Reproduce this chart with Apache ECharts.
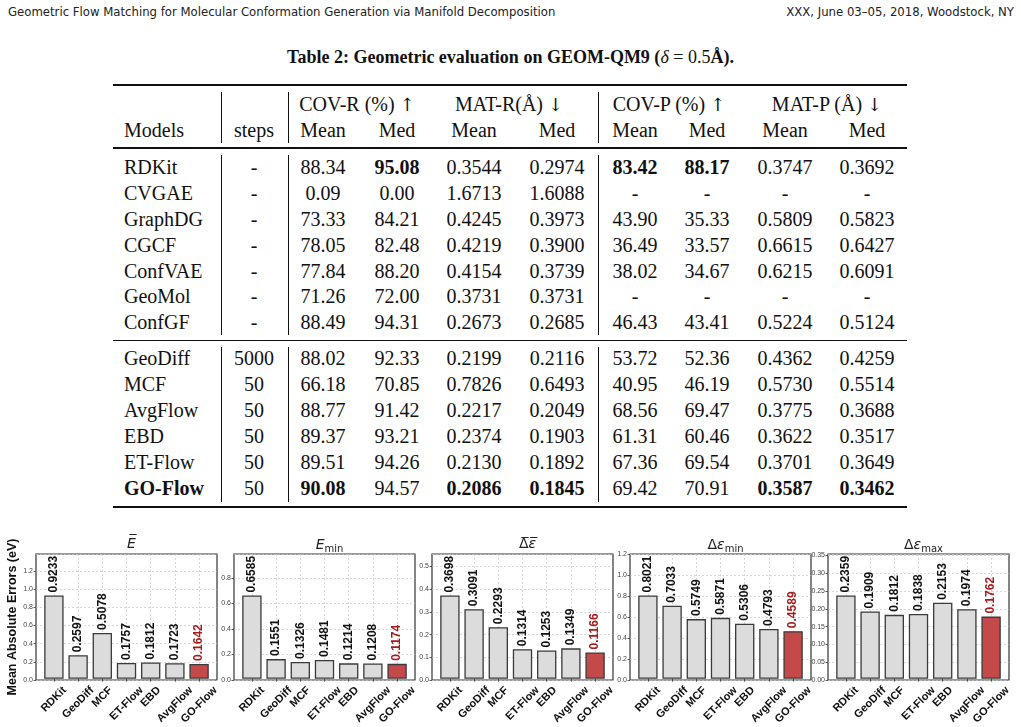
<!DOCTYPE html>
<html>
<head>
<meta charset="utf-8">
<script src="https://cdn.jsdelivr.net/npm/echarts@6/dist/echarts.min.js"></script>
<style>
  body { margin: 0; background: #fff; width: 1021px; height: 727px; overflow: hidden; position: relative; }
  .hd { position: absolute; top: 4px; font-family: "DejaVu Sans Condensed", "Liberation Sans Narrow", sans-serif; font-size: 13px; color: #222; white-space: nowrap; }
  #cap { position: absolute; top: 47px; left: 0; width: 1021px; text-align: center; font: bold 18px "Liberation Serif", serif; color: #111; }
  .t { position: absolute; font-family: "Liberation Serif", serif; font-size: 20px; color: #111; white-space: nowrap; transform: translate(-50%, -50%); }
  .t.l { transform: translate(0, -50%); }
  .t.b { font-weight: bold; }
  .ar { font-family: "DejaVu Serif", serif; color: #111; font-size: 18px; }
  .rule { position: absolute; left: 113px; width: 794px; background: #111; }
  .vl { position: absolute; width: 1px; background: #111; }
  #chart { position: absolute; left: 0; top: 525px; width: 1021px; height: 202px; }
</style>
</head>
<body>
<div class="hd" style="left:8px">Geometric Flow Matching for Molecular Conformation Generation via Manifold Decomposition</div>
<div class="hd" style="right:7px">XXX, June 03–05, 2018, Woodstock, NY</div>
<div id="cap">Table 2: Geometric evaluation on GEOM-QM9 (<i style="font-weight:normal">δ</i> <span style="font-weight:normal">= 0.5</span>Å).</div>
<div id="table"></div>
<div id="chart"></div>
<script>
// ---- table data ----
const tableModels = ['RDKit', 'CVGAE', 'GraphDG', 'CGCF', 'ConfVAE', 'GeoMol', 'ConfGF',
                     'GeoDiff', 'MCF', 'AvgFlow', 'EBD', 'ET-Flow', 'GO-Flow'];
const tableSteps = ['-', '-', '-', '-', '-', '-', '-', '5000', '50', '50', '50', '50', '50'];
const covRMean = ['88.34', '0.09', '73.33', '78.05', '77.84', '71.26', '88.49', '88.02', '66.18', '88.77', '89.37', '89.51', '90.08'];
const covRMed  = ['95.08', '0.00', '84.21', '82.48', '88.20', '72.00', '94.31', '92.33', '70.85', '91.42', '93.21', '94.26', '94.57'];
const matRMean = ['0.3544', '1.6713', '0.4245', '0.4219', '0.4154', '0.3731', '0.2673', '0.2199', '0.7826', '0.2217', '0.2374', '0.2130', '0.2086'];
const matRMed  = ['0.2974', '1.6088', '0.3973', '0.3900', '0.3739', '0.3731', '0.2685', '0.2116', '0.6493', '0.2049', '0.1903', '0.1892', '0.1845'];
const covPMean = ['83.42', '-', '43.90', '36.49', '38.02', '-', '46.43', '53.72', '40.95', '68.56', '61.31', '67.36', '69.42'];
const covPMed  = ['88.17', '-', '35.33', '33.57', '34.67', '-', '43.41', '52.36', '46.19', '69.47', '60.46', '69.54', '70.91'];
const matPMean = ['0.3747', '-', '0.5809', '0.6615', '0.6215', '-', '0.5224', '0.4362', '0.5730', '0.3775', '0.3622', '0.3701', '0.3587'];
const matPMed  = ['0.3692', '-', '0.5823', '0.6427', '0.6091', '-', '0.5124', '0.4259', '0.5514', '0.3688', '0.3517', '0.3649', '0.3462'];
// bold cells: row index -> column indices (0 = model, 2..9 = value columns)
const boldCells = { 0: [3, 6, 7], 12: [0, 2, 4, 5, 8, 9] };

// ---- bar chart data ----
const models = ['RDKit', 'GeoDiff', 'MCF', 'ET-Flow', 'EBD', 'AvgFlow', 'GO-Flow'];
const eMean   = [0.9233, 0.2597, 0.5078, 0.1757, 0.1812, 0.1723, 0.1642];
const eMin    = [0.6585, 0.1551, 0.1326, 0.1481, 0.1214, 0.1208, 0.1174];
const gapMean = [0.3698, 0.3091, 0.2293, 0.1314, 0.1253, 0.1349, 0.1166];
const gapMin  = [0.8021, 0.7033, 0.5749, 0.5871, 0.5306, 0.4793, 0.4589];
const gapMax  = [0.2359, 0.1909, 0.1812, 0.1838, 0.2153, 0.1974, 0.1762];
const yIntervals = [0.2, 0.2, 0.1, 0.2, 0.05];
const yDecimals = [1, 1, 1, 1, 2];

// ---- build table ----
(function buildTable() {
    const host = document.getElementById('table');
    let html = '';
    const cell = (txt, x, y, cls) =>
        `<div class="t ${cls || ''}" style="left:${x}px;top:${y}px">${txt}</div>`;
    const up = '<span class="ar">\u2191</span>', down = '<span class="ar">\u2193</span>';

    // rules
    html += '<div class="rule" style="top:84px;height:2px"></div>';
    html += '<div class="rule" style="top:147px;height:1.5px"></div>';
    html += '<div class="rule" style="top:340px;height:1px"></div>';
    html += '<div class="rule" style="top:506px;height:2px"></div>';
    // vertical separators, broken at the rules
    [221, 288, 598].forEach(x => {
        [[92, 143], [155, 335], [347, 502]].forEach(([a, b]) => {
            html += `<div class="vl" style="left:${x}px;top:${a}px;height:${b - a}px"></div>`;
        });
    });

    // headers
    html += cell('COV-R (%) ' + up, 357, 104);
    html += cell('MAT-R(Å) ' + down, 509, 104);
    html += cell('COV-P (%) ' + up, 669, 104);
    html += cell('MAT-P (Å) ' + down, 827, 104);
    html += cell('Models', 124, 130, 'l');
    html += cell('steps', 254, 130);
    const colX = [323, 397, 474, 557, 635, 707, 785, 867];
    colX.forEach((x, i) => { html += cell(i % 2 ? 'Med' : 'Mean', x, 130); });

    const rowY = [167, 193, 219, 245, 271, 296, 322, 358, 384, 410, 436, 462, 488];
    const cols = [covRMean, covRMed, matRMean, matRMed, covPMean, covPMed, matPMean, matPMed];
    tableModels.forEach((m, r) => {
        const bold = boldCells[r] || [];
        html += cell(m, 124, rowY[r], 'l' + (bold.includes(0) ? ' b' : ''));
        html += cell(tableSteps[r], 254, rowY[r]);
        cols.forEach((arr, c) => {
            html += cell(arr[r], colX[c], rowY[r], bold.includes(c + 2) ? 'b' : '');
        });
    });
    host.innerHTML = html;
})();

// ---- bar charts ----
const chart = echarts.init(document.getElementById('chart'));

const panels = [
    { vals: eMean,   title: '{it|E\u0305}' },
    { vals: eMin,    title: '{it|E}{sub|min}' },
    { vals: gapMean, title: '{n|Δ\u0305}{it|ε\u0305}' },
    { vals: gapMin,  title: '{n|Δ}{it|ε}{sub|min}' },
    { vals: gapMax,  title: '{n|Δ}{it|ε}{sub|max}' }
];

const PANEL_W = 181, PANEL_STEP = 198, PANEL_L = 36, TOP = 29, BOTTOM = 47;
// matplotlib-like x range: [-0.74, 6.74] for 7 bars of width 0.8
const unit = PANEL_W / 7.48;
const HIGHLIGHT = 'GO-Flow';

// x tick labels: rotated 45deg, centred under the tick, top edge a fixed gap below the axis
const XL_FONT = 11, XL_GAP = 6;
const measure = document.createElement('canvas').getContext('2d');
measure.font = `bold ${XL_FONT}px "Liberation Sans"`;
const labelLen = models.map(m => measure.measureText(m).width);
const diag = l => 0.3536 * (l + XL_FONT);
const xlMargin = XL_GAP + diag(Math.min(...labelLen));
const xlRich = {};
models.forEach((m, k) => {
    const shift = 1.414 * (XL_GAP + diag(labelLen[k]) - xlMargin);
    xlRich['l' + k] = { fontFamily: 'Liberation Sans', fontWeight: 'bold', fontSize: XL_FONT,
                        color: '#111', padding: [shift, shift, 0, 0] };
});

const grid = [], xAxis = [], yAxis = [], series = [], title = [];
const titleRich = {
    it: { fontFamily: 'DejaVu Sans', fontStyle: 'italic', fontWeight: 'normal', fontSize: 14, color: '#222' },
    n: { fontFamily: 'DejaVu Sans', fontWeight: 'normal', fontSize: 14, color: '#222' },
    sub: { fontFamily: 'DejaVu Sans', fontWeight: 'normal', fontSize: 10, color: '#222', padding: [7, 0, 0, 0] }
};

panels.forEach((p, i) => {
    const left = PANEL_L + PANEL_STEP * i;
    const yMax = Math.max(...p.vals) * 1.5;

    // outer grid: frame + y axis
    grid.push({ left: left, width: PANEL_W, top: TOP, bottom: BOTTOM, show: true,
                borderColor: '#333', borderWidth: 1.2, backgroundColor: 'transparent' });
    // inner grid: bar positions (category centres)
    grid.push({ left: left + unit * 0.74, width: unit * 6, top: TOP, bottom: BOTTOM });

    xAxis.push({ gridIndex: 2 * i, type: 'value', min: 0, max: 1, show: false });
    yAxis.push({
        gridIndex: 2 * i, type: 'value', min: 0, max: yMax, interval: yIntervals[i],
        name: i === 0 ? 'Mean Absolute Errors (eV)' : '',
        nameLocation: 'middle', nameGap: 15,
        nameTextStyle: { fontFamily: 'Liberation Sans', fontWeight: 'bold', fontSize: 12.5, color: '#111' },
        axisLine: { show: false },
        axisTick: { show: true, length: 2.5, lineStyle: { color: '#333', width: 0.8 } },
        axisLabel: { fontFamily: 'Liberation Sans', fontSize: 7, color: '#444', margin: 3,
                     showMaxLabel: false, formatter: v => v.toFixed(yDecimals[i]) },
        splitLine: { show: true, lineStyle: { color: '#c8c8c8', type: [2, 2], width: 0.7 } }
    });

    xAxis.push({
        gridIndex: 2 * i + 1, type: 'category', data: models, boundaryGap: false,
        axisLine: { show: false },
        axisTick: { show: true, length: 3, lineStyle: { color: '#333', width: 0.8 } },
        axisLabel: { interval: 0, rotate: 45, margin: xlMargin, align: 'center', verticalAlign: 'middle',
                     formatter: (v, k) => `{l${k}|${v}}`, rich: xlRich },
        splitLine: { show: true, lineStyle: { color: '#c8c8c8', type: [2, 2], width: 0.7 } }
    });
    yAxis.push({ gridIndex: 2 * i + 1, type: 'value', min: 0, max: yMax, show: false, splitLine: { show: false } });

    series.push({
        type: 'bar', xAxisIndex: 2 * i + 1, yAxisIndex: 2 * i + 1, clip: false,
        barWidth: unit * 0.8,
        itemStyle: { color: '#dcdcdc', borderColor: '#3a3a3a', borderWidth: 1.3 },
        label: {
            show: true, position: 'top', rotate: 90, align: 'left', verticalAlign: 'middle',
            distance: 3, fontFamily: 'Liberation Sans', fontWeight: 'bold', fontSize: 12, color: '#111',
            formatter: d => d.value.toFixed(4)
        },
        data: p.vals.map((v, k) => models[k] === HIGHLIGHT
            ? { value: v, itemStyle: { color: '#c44a4a' }, label: { color: '#a51c1c' } }
            : v)
    });

    title.push({
        text: p.title, left: left + PANEL_W / 2, top: 7, textAlign: 'center',
        textStyle: { fontWeight: 'normal', rich: titleRich }
    });
});

chart.setOption({ animation: false, title, grid, xAxis, yAxis, series });
</script>
</body>
</html>
